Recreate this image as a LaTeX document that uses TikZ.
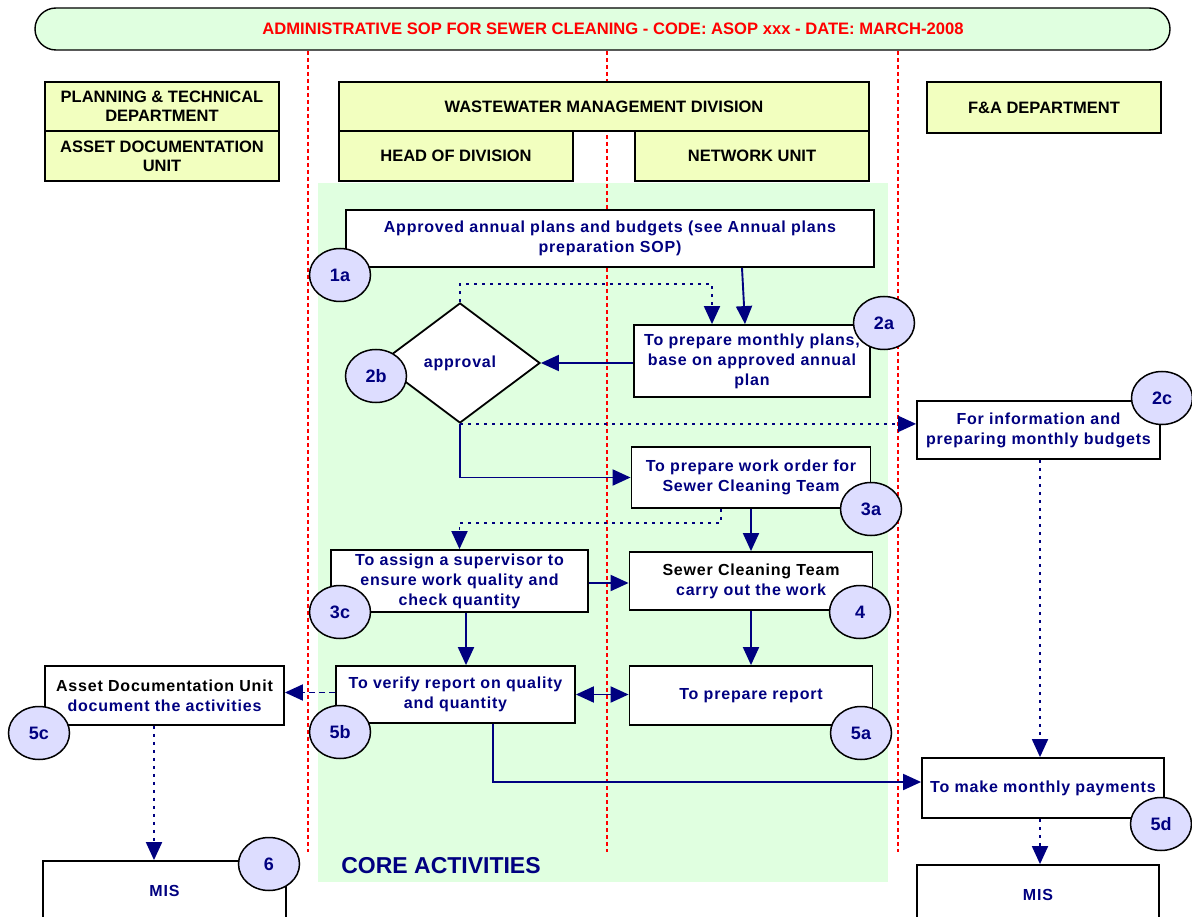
\documentclass[tikz,border=0pt]{standalone}
\usepackage{fontspec}
\setmainfont{Liberation Sans}
\newfontfamily\spacedfont[LetterSpace=5]{Liberation Sans}
\usetikzlibrary{arrows.meta,shapes.geometric,calc}

\definecolor{navyblue}{RGB}{0,0,128}
\definecolor{titlefill}{RGB}{224,255,224}
\definecolor{corefill}{RGB}{224,255,224}
\definecolor{hdrfill}{RGB}{242,255,191}
\definecolor{tagfill}{RGB}{221,221,255}

\tikzset{
  lane/.style={draw=black, line width=1.8pt, fill=hdrfill, inner sep=0pt, align=center,
    font=\fontsize{16.5}{19}\selectfont\bfseries},
  stepbox/.style={draw=black, line width=1.8pt, fill=white, inner sep=0pt, align=center,
    text=navyblue, font=\spacedfont\fontsize{16}{20}\selectfont\bfseries},
  tag/.style={ellipse, draw=black, line width=1.5pt, fill=tagfill, minimum width=61,
    minimum height=53, inner sep=0pt, text=navyblue, font=\fontsize{18}{18}\selectfont\bfseries},
  flow/.style={draw=navyblue, line width=1.9pt, -{Triangle[length=18pt,width=16pt]}},
  twoway/.style={draw=navyblue, line width=1.9pt, {Triangle[length=18pt,width=16pt]}-{Triangle[length=18pt,width=16pt]}},
  dotflow/.style={flow, dash pattern=on 3pt off 5pt},
  dashflow/.style={flow, dash pattern=on 6pt off 4pt},
  lanesep/.style={draw=red, line width=1.6pt, dash pattern=on 4pt off 3pt},
}

\begin{document}
\begin{tikzpicture}[x=1pt, y=-1pt]
\useasboundingbox (0,0) rectangle (1192,917);

% core activities area
\fill[corefill] (318,183) rectangle (888,882);
\node[text=navyblue, font=\fontsize{23}{23}\selectfont\bfseries] (corelbl) at (441,866) {CORE ACTIVITIES};

% title bar
\node[draw=black, line width=1.4pt, fill=titlefill, rounded corners=21pt, minimum width=1135,
  minimum height=42, inner sep=0pt] (title) at (602.5,29) {};
\node[text=red, font=\fontsize{16.6}{16.6}\selectfont\bfseries] (titletext) at (613,29)
  {ADMINISTRATIVE SOP FOR SEWER CLEANING - CODE: ASOP xxx - DATE: MARCH-2008};

% lane separators
\coordinate (s1a) at (308,51);  \coordinate (s1b) at (308,852);
\coordinate (s2a) at (607,51);  \coordinate (s2b) at (607,852);
\coordinate (s3a) at (898,51);  \coordinate (s3b) at (898,852);
\draw[lanesep] (s1a) -- (s1b);
\draw[lanesep] (s2a) -- (s2b);
\draw[lanesep] (s3a) -- (s3b);

% lane headers
\node[lane, minimum width=234, minimum height=49] (hpt) at (162,106.5) {PLANNING \& TECHNICAL\\DEPARTMENT};
\node[lane, minimum width=234, minimum height=50] (hadu) at (162,156) {ASSET DOCUMENTATION\\UNIT};
\node[lane, minimum width=530, minimum height=49] (hwmd) at (604,106.5) {WASTEWATER MANAGEMENT DIVISION};
\node[lane, minimum width=234, minimum height=50] (hhod) at (456,156) {HEAD OF DIVISION};
\node[lane, minimum width=234, minimum height=50] (hnu) at (752,156) {NETWORK UNIT};
\node[lane, minimum width=234, minimum height=51] (hfa) at (1044,107.5) {F\&A DEPARTMENT};

% process steps
\node[stepbox, minimum width=528, minimum height=57] (n1a) at (610,238.5)
  {Approved annual plans and budgets (see Annual plans\\preparation SOP)};
\node[stepbox, minimum width=236, minimum height=72] (n2a) at (752,361)
  {To prepare monthly plans,\\base on approved annual\\plan};
\node[diamond, draw=black, line width=1.8pt, fill=white, minimum width=160, minimum height=120,
  inner sep=0pt, text=navyblue, font=\spacedfont\fontsize{16}{20}\selectfont\bfseries]
  (dia) at (460,363) {approval};
\node[stepbox, minimum width=243, minimum height=58] (n2c) at (1038.5,430)
  {For information and\\preparing monthly budgets};
\node[stepbox, minimum width=239, minimum height=61] (n3a) at (751,477.5)
  {To prepare work order for\\Sewer Cleaning Team};
\node[stepbox, minimum width=257, minimum height=62] (n3c) at (459.5,581)
  {To assign a supervisor to\\ensure work quality and\\check quantity};
\node[stepbox, minimum width=243, minimum height=58] (n4) at (751,581)
  {\textcolor{black}{Sewer Cleaning Team}\\carry out the work};
\node[stepbox, minimum width=239, minimum height=57] (n5b) at (455.5,694.5)
  {To verify report on quality\\and quantity};
\node[stepbox, minimum width=243, minimum height=59] (n5a) at (751,695.5)
  {To prepare report};
\node[stepbox, minimum width=239, minimum height=59] (n5c) at (164.5,695.5)
  {\textcolor{black}{Asset Documentation Unit}\\document the activities};
\node[stepbox, minimum width=242, minimum height=60] (n5d) at (1043,788)
  {To make monthly payments};
\node[stepbox, minimum width=243, minimum height=60] (mis1) at (164.5,891) {MIS};
\node[stepbox, minimum width=242, minimum height=60] (mis2) at (1038,895) {MIS};

% connectors
\draw[flow] ([xshift=132]n1a.south) -- ([xshift=-7]n2a.north);
\draw[dotflow] (dia.north) -- ++(0,-18) -| ([xshift=-40]n2a.north);
\draw[flow] (n2a.west |- dia.east) -- (dia.east);
\draw[dotflow] (dia.south) -- (dia.south -| n2c.west);
\draw[flow] (dia.south) |- (n3a.west);
\draw[dotflow] ([xshift=-30]n3a.south) -- ++(0,14) -| (n3c.north);
\draw[flow] (n3a.south) -- (n4.north);
\draw[flow] ([yshift=-2]n3c.east) -- ([yshift=-2]n3c.east -| n4.west);
\draw[flow] ([xshift=6.5]n3c.south) -- ([xshift=6.5]n3c.south |- n5b.north);
\draw[flow] (n4.south) -- (n5a.north);
\draw[twoway] (n5b.east) -- (n5b.east -| n5a.west);
\draw[dashflow] ([yshift=2]n5b.west) -- ([yshift=2]n5b.west -| n5c.east);
\draw[dotflow] ([xshift=-10.5]n5c.south) -- ([xshift=-10.5]n5c.south |- mis1.north);
\draw[dotflow] ([xshift=1.5]n2c.south) -- ([xshift=1.5]n2c.south |- n5d.north);
\draw[flow] ([xshift=37.5]n5b.south) |- ([yshift=6]n5d.west);
\draw[dotflow] ([xshift=-3]n5d.south) -- ([xshift=-3]n5d.south |- mis2.north);

% step tags
\node[tag] (t1a) at (340,275) {1a};
\node[tag] (t2a) at (884,323) {2a};
\node[tag] (t2b) at (376,376) {2b};
\node[tag] (t2c) at (1162,398) {2c};
\node[tag] (t3a) at (871,509) {3a};
\node[tag] (t3c) at (340,612) {3c};
\node[tag] (t4) at (860,612) {4};
\node[tag] (t5a) at (861,733) {5a};
\node[tag] (t5b) at (340,732) {5b};
\node[tag] (t5c) at (39,733) {5c};
\node[tag] (t5d) at (1161,824) {5d};
\node[tag] (t6) at (269,864) {6};
\end{tikzpicture}
\end{document}
